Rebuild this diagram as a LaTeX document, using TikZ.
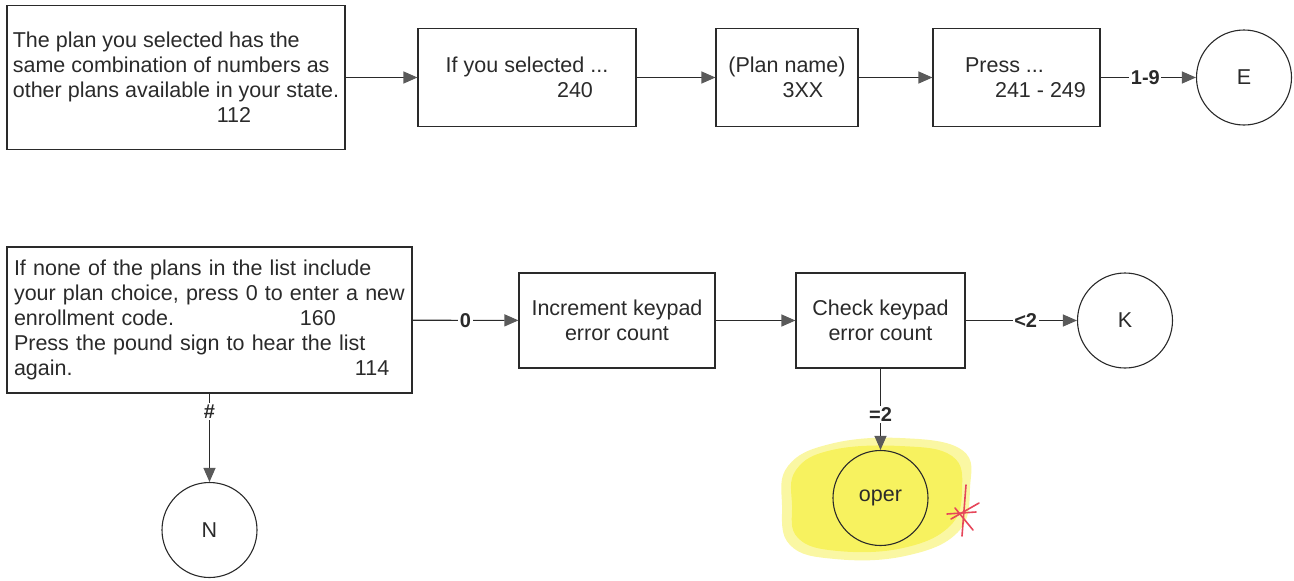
\documentclass[tikz,border=0pt]{standalone}
\usepackage{fontspec}
\setmainfont{Liberation Sans}
\usetikzlibrary{arrows.meta}
\definecolor{ink}{HTML}{2A2A2A}
\definecolor{tipgray}{HTML}{5A5A5A}
\definecolor{hilite}{RGB}{245,238,50}
\definecolor{redpen}{RGB}{230,70,90}
\newcommand\bodyfs{\fontsize{21.5}{25}\selectfont}
\newcommand\lblfs{\fontsize{20}{22}\selectfont\bfseries}
\begin{document}
\begin{tikzpicture}[x=1pt,y=-1pt,
  box/.style={draw=ink, line width=1.1pt, inner sep=0pt, font=\bodyfs, text=ink},
  circ/.style={draw=ink, circle, line width=1.1pt, minimum size=95pt, inner sep=0pt, font=\bodyfs, text=ink},
  conn/.style={draw=ink, line width=1.1pt, -{Triangle[length=14pt,width=12pt,color=tipgray]}},
  lbl/.style={fill=white, font=\lblfs, inner sep=1.5pt, text=ink}]
\useasboundingbox (0,0) rectangle (1294,581);
% top row
\node[box, minimum width=338pt, minimum height=144pt, align=left] (b1) at (176,77.5)
 {The plan you selected has the\\same combination of numbers as\\other plans available in your state.\\\hspace*{204pt}112};
\node[box, minimum width=218pt, minimum height=98pt, align=center] (b2) at (527,77.5)
 {If you selected ...\\\hspace*{96pt}240};
\node[box, minimum width=142pt, minimum height=98pt, align=center] (b3) at (787,77.5)
 {(Plan name)\\\hspace*{32pt}3XX};
\node[box, minimum width=167pt, minimum height=98pt, align=center] (b4) at (1016.5,77.5)
 {Press ...\hspace*{24pt}\\\hspace*{48pt}241 - 249};
\node[circ] (E) at (1244,77.5) {E};
\draw[conn] (b1) -- (b2);
\draw[conn] (b2) -- (b3);
\draw[conn] (b3) -- (b4);
\draw[conn] (b4) -- node[lbl, pos=0.47] (l19) {1-9} (E);
% bottom row
\fill[hilite, opacity=0.45] plot[smooth cycle, tension=0.7] coordinates
 {(788,466) (830,444) (900,438) (962,450) (970,488) (958,532) (905,556) (835,559) (790,545) (782,505)};
\fill[hilite, opacity=0.6] plot[smooth cycle, tension=0.7] coordinates
 {(796,470) (832,450) (900,446) (952,456) (962,490) (950,526) (903,548) (838,551) (798,538) (792,505)};
\node[box, minimum width=405pt, minimum height=146pt, text width=391pt, align=left] (b5) at (209.5,320)
 {If none of the plans in the list include\\your plan choice, press 0 to enter a new\\\makebox[286pt][l]{enrollment code.}160\\Press the pound sign to hear the list\\\makebox[341pt][l]{again.}114};
\node[box, minimum width=196pt, minimum height=95pt, align=center] (b6) at (617,320.5)
 {Increment keypad\\error count};
\node[box, minimum width=169pt, minimum height=95pt, align=center] (b7) at (880.5,320.5)
 {Check keypad\\error count};
\node[circ] (K) at (1125,320.5) {K};
\node[circ] (oper) at (880.5,498) {oper};
\node[circ] (N) at (209.5,530) {N};
\draw[conn] (b5) -- node[lbl, pos=0.5] (l0) {0} (b6);
\draw[conn] (b6) -- (b7);
\draw[conn] (b7) -- node[lbl, pos=0.54] (l2) {<2} (K);
\draw[conn] (b7) -- node[lbl, pos=0.56] (le2) {=2} (oper);
\draw[conn] (b5) -- node[lbl, pos=0.2] (lh) {\#} (N);
% red pen mark
\begin{scope}[draw=redpen, line width=1.6pt, line cap=round]
\draw (966,485) -- (962,536);
\draw (951,519) -- (979,503);
\draw (955,508) -- (973,530);
\draw (947,514) -- (976,512);
\end{scope}
\end{tikzpicture}
\end{document}
